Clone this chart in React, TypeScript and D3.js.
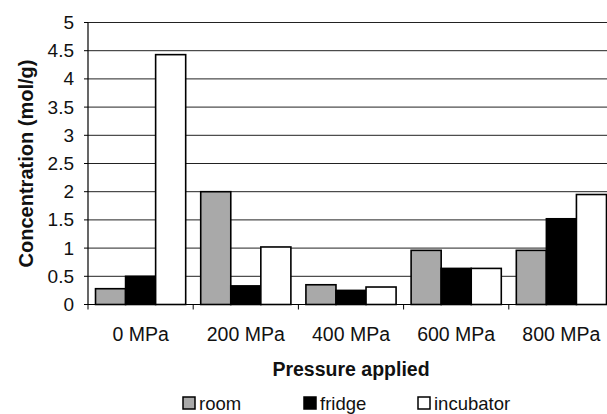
import React from 'react';
import * as d3 from 'd3';

// pressure categories and the three storage series (mol/g)
const categories = ['0 MPa', '200 MPa', '400 MPa', '600 MPa', '800 MPa'];
const room = [0.28, 2.0, 0.35, 0.96, 0.96];
const fridge = [0.5, 0.33, 0.25, 0.64, 1.52];
const incubator = [4.43, 1.02, 0.31, 0.64, 1.95];
const yTicks = [0, 0.5, 1, 1.5, 2, 2.5, 3, 3.5, 4, 4.5, 5];

const series = [
  { name: 'room', values: room, fill: '#a9a9a9' },
  { name: 'fridge', values: fridge, fill: '#000000' },
  { name: 'incubator', values: incubator, fill: '#ffffff' },
];

const W = 607;
const H = 414;
const font = '"Liberation Sans", Arial, sans-serif';

const T = ({ x, y, anchor = 'start', bold = false, size = 19.5, children }: any) => (
  <text x={x} y={y} textAnchor={anchor} fontFamily={font} fontSize={size} fontWeight={bold ? 'bold' : 'normal'} fill="#111">
    {children}
  </text>
);

export default function App() {
  // plot area runs a little past the right edge of the picture, as in the original
  const x = d3.scaleBand().domain(categories).range([88, 614]).paddingInner(0).paddingOuter(0);
  const inner = d3.scaleBand().domain(series.map(s => s.name)).range([0, x.bandwidth()]).paddingInner(0).paddingOuter(0.25);
  const y = d3.scaleLinear().domain([0, 5]).range([304.5, 22.5]);

  const x0 = x.range()[0];
  const x1 = x.range()[1];

  return (
    <div style={{ position: 'absolute', left: 0, top: 0 }}>
      <svg width={W} height={H} style={{ display: 'block', background: '#fff' }}>
        {/* grid lines */}
        {yTicks.map(t => (
          <line key={'g' + t} x1={x0} x2={x1} y1={y(t)} y2={y(t)} stroke="#222" strokeWidth={1} />
        ))}
        {/* y tick marks and labels */}
        {yTicks.map(t => (
          <g key={'t' + t}>
            <line x1={x0 - 4} x2={x0} y1={y(t)} y2={y(t)} stroke="#000" />
            <T x={x0 - 14} y={y(t) + 6.5} anchor="end" size={19}>{t}</T>
          </g>
        ))}
        {/* bars */}
        {categories.map((c, i) => (
          <g key={c} transform={`translate(${x(c)},0)`}>
            {series.map(s => (
              <rect
                key={s.name}
                x={inner(s.name)}
                y={y(s.values[i])}
                width={inner.bandwidth()}
                height={y(0) - y(s.values[i])}
                fill={s.fill}
                stroke="#000"
                strokeWidth={1.6}
              />
            ))}
          </g>
        ))}
        {/* axes */}
        <line x1={x0} x2={x0} y1={y(5)} y2={y(0)} stroke="#000" strokeWidth={1.2} />
        <line x1={x0} x2={x1} y1={y(0)} y2={y(0)} stroke="#000" strokeWidth={1.2} />
        {categories.map(c => (
          <line key={'xt' + c} x1={x(c)!} x2={x(c)!} y1={y(0)} y2={y(0) + 5} stroke="#000" />
        ))}
        <line x1={x1} x2={x1} y1={y(0)} y2={y(0) + 5} stroke="#000" />
        {categories.map(c => (
          <T key={'xl' + c} x={x(c)! + x.bandwidth() / 2} y={341} anchor="middle">{c}</T>
        ))}
        {/* axis titles */}
        <T x={(x0 + x1) / 2} y={376} anchor="middle" bold>Pressure applied</T>
        <text
          transform={`translate(33,${(y(0) + y(5)) / 2}) rotate(-90)`}
          textAnchor="middle"
          fontFamily={font}
          fontSize={20}
          fontWeight="bold"
          fill="#111"
        >
          Concentration (mol/g)
        </text>
        {/* legend */}
        {series.map((s, i) => {
          const lx = [183, 304, 418][i];
          return (
            <g key={'lg' + s.name}>
              <rect x={lx} y={397} width={12} height={12} fill={s.fill} stroke="#000" strokeWidth={1.5} />
              <T x={lx + 16} y={409.5} size={18.5}>{s.name}</T>
            </g>
          );
        })}
      </svg>
    </div>
  );
}
